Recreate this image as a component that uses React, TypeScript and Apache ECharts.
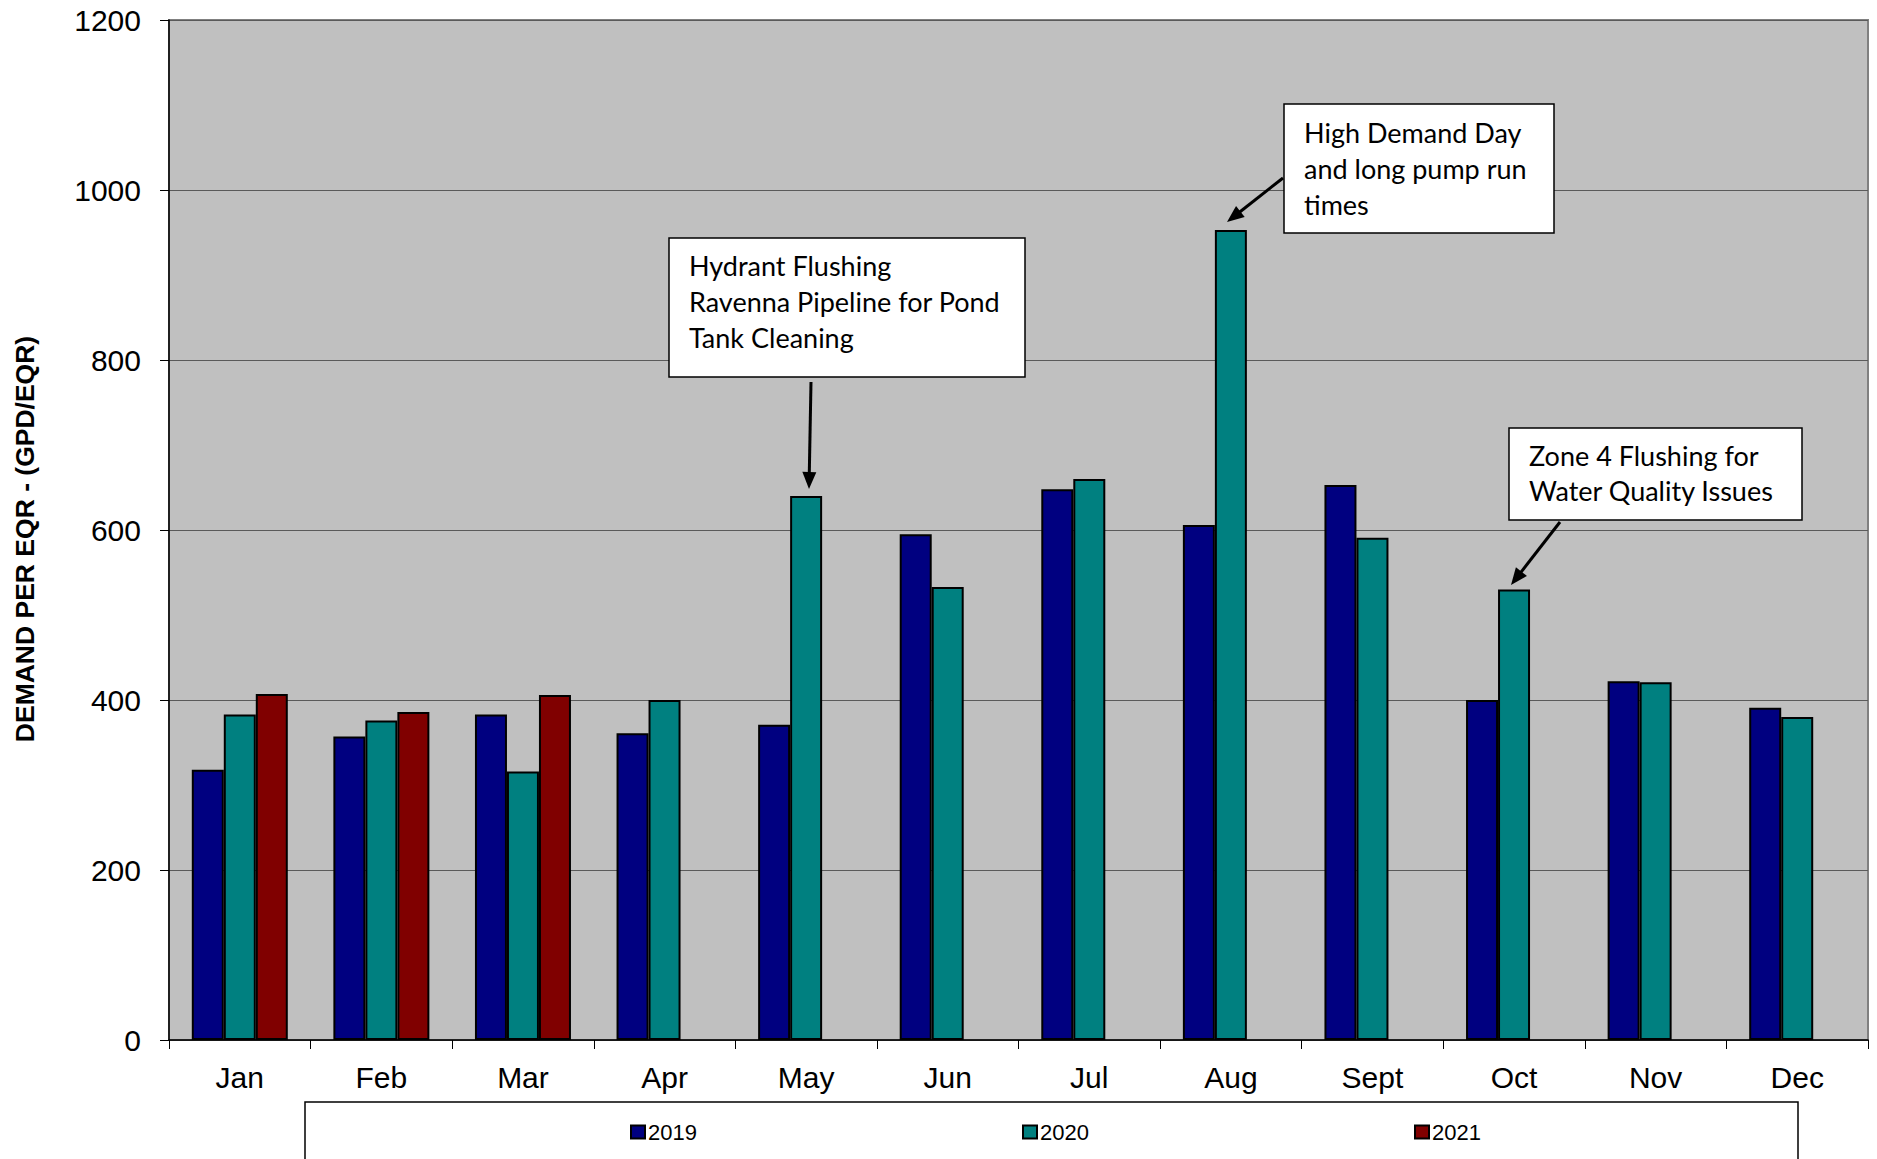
import React, { useEffect, useRef } from "react";
import * as echarts from "echarts";

const months = ["Jan", "Feb", "Mar", "Apr", "May", "Jun", "Jul", "Aug", "Sept", "Oct", "Nov", "Dec"];
const seriesNames = ["2019", "2020", "2021"];
const d2019 = [318, 357, 383, 361, 371, 595, 648, 606, 653, 400, 422, 391];
const d2020 = [383, 376, 316, 400, 640, 533, 660, 953, 591, 530, 421, 380];
const d2021: (number | string)[] = [407, 386, 406, "-", "-", "-", "-", "-", "-", "-", "-", "-"];
const seriesColors = ["#000080", "#008080", "#800000"];
const yTicks = { min: 0, max: 1200, interval: 200 };

const annotations = [
  {
    box: [669, 238, 356, 139],
    lines: ["Hydrant Flushing", "Ravenna Pipeline for Pond", "Tank Cleaning"],
    textX: 689,
    lineYs: [265, 301, 337],
    arrow: [811, 382, 809, 489],
  },
  {
    box: [1284, 104, 270, 129],
    lines: ["High Demand Day", "and long pump run", "times"],
    textX: 1304,
    lineYs: [132, 168, 204],
    arrow: [1283, 178, 1227, 222],
  },
  {
    box: [1509, 428, 293, 92],
    lines: ["Zone 4 Flushing for", "Water Quality Issues"],
    textX: 1529,
    lineYs: [455, 490],
    arrow: [1560, 522, 1511, 585],
  },
];

function arrowGraphics(a: number[]) {
  const [x1, y1, x2, y2] = a;
  const dx = x2 - x1;
  const dy = y2 - y1;
  const len = Math.sqrt(dx * dx + dy * dy);
  const ux = dx / len;
  const uy = dy / len;
  const hl = 17;
  const hw = 7;
  const bx = x2 - ux * hl;
  const by = y2 - uy * hl;
  return [
    {
      type: "line",
      shape: { x1, y1, x2: bx + ux * 2, y2: by + uy * 2 },
      style: { stroke: "#000", lineWidth: 3 },
      z: 100,
    },
    {
      type: "polygon",
      shape: {
        points: [
          [x2, y2],
          [bx - uy * hw, by + ux * hw],
          [bx + uy * hw, by - ux * hw],
        ],
      },
      style: { fill: "#000" },
      z: 100,
    },
  ];
}

export default function App() {
  const ref = useRef<HTMLDivElement>(null);
  useEffect(() => {
    if (!ref.current) return;
    const chart = echarts.init(ref.current, null, { renderer: "svg" });
    const font = "'Liberation Sans', Arial, sans-serif";
    const annFont = "Lato, 'Open Sans', sans-serif";

    const graphics: any[] = [];
    // legend frame
    graphics.push({
      type: "rect",
      shape: { x: 305, y: 1102, width: 1493, height: 100 },
      style: { fill: "#fff", stroke: "#000", lineWidth: 1.5 },
      z: 0,
    });
    // y-axis title
    graphics.push({
      type: "text",
      x: 25,
      y: 539,
      rotation: Math.PI / 2,
      style: {
        text: "DEMAND PER EQR - (GPD/EQR)",
        font: `bold 26.5px ${font}`,
        fill: "#000",
        align: "center",
        verticalAlign: "middle",
      },
    });
    annotations.forEach((an) => {
      graphics.push({
        type: "rect",
        shape: { x: an.box[0], y: an.box[1], width: an.box[2], height: an.box[3] },
        style: { fill: "#fff", stroke: "#000", lineWidth: 1.5 },
        z: 100,
      });
      an.lines.forEach((ln, i) => {
        graphics.push({
          type: "text",
          x: an.textX,
          y: an.lineYs[i],
          style: {
            text: ln,
            font: `27px ${annFont}`,
            fill: "#000",
            align: "left",
            verticalAlign: "middle",
          },
          z: 101,
        });
      });
      graphics.push(...arrowGraphics(an.arrow));
    });

    const legendLefts = [630, 1022, 1414];

    chart.setOption({
      animation: false,
      backgroundColor: "#fff",
      grid: {
        left: 169,
        right: 9,
        top: 20,
        bottom: 119,
        show: true,
        backgroundColor: "#C0C0C0",
        borderColor: "#808080",
        borderWidth: 2,
        containLabel: false,
      },
      legend: seriesNames.map((n, i) => ({
        data: [n],
        left: legendLefts[i],
        top: 1121,
        padding: 0,
        icon: "rect",
        itemWidth: 14,
        itemHeight: 13,
        itemGap: 4,
        textStyle: { fontFamily: font, fontSize: 22, color: "#000", padding: [0, 0, 0, -2] },
        selectedMode: false,
        z: 10,
      })),
      xAxis: {
        type: "category",
        data: months,
        axisLine: { lineStyle: { color: "#000", width: 1.5 } },
        axisTick: { show: true, length: 9, lineStyle: { color: "#000", width: 1 } },
        axisLabel: { fontFamily: font, fontSize: 30, color: "#000", margin: 22 },
      },
      yAxis: {
        type: "value",
        min: yTicks.min,
        max: yTicks.max,
        interval: yTicks.interval,
        axisLine: { show: true, lineStyle: { color: "#000", width: 1.5 } },
        axisTick: { show: true, length: 9, lineStyle: { color: "#000", width: 1 } },
        axisLabel: {
          fontFamily: font,
          fontSize: 30,
          color: "#000",
          margin: 28,
          formatter: (v: number) => String(v),
        },
        splitLine: { show: true, lineStyle: { color: "#5a5a5a", width: 1.2 } },
      },
      series: [d2019, d2020, d2021].map((d, i) => ({
        name: seriesNames[i],
        type: "bar",
        data: d,
        barWidth: 32,
        barGap: "0%",
        itemStyle: { color: seriesColors[i], borderColor: "#000", borderWidth: 2 },
      })),
      graphic: graphics,
    });
    return () => chart.dispose();
  }, []);
  return (
    <div
      ref={ref}
      style={{ position: "fixed", left: 0, top: 0, width: 1877, height: 1159, background: "#fff" }}
    />
  );
}
